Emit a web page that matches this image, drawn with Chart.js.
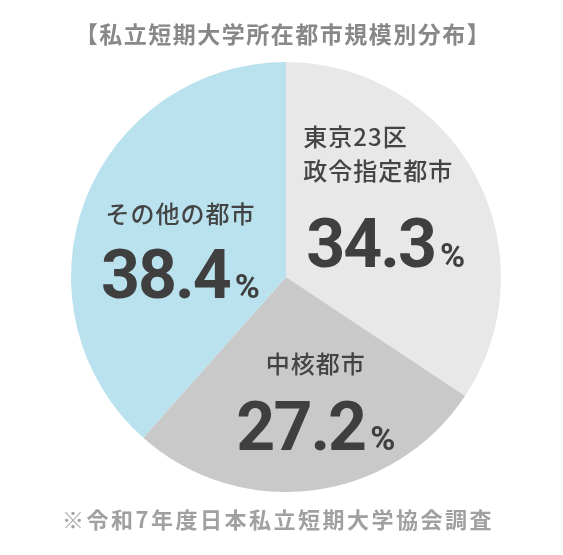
<!DOCTYPE html>
<html>
<head>
<meta charset="utf-8">
<script src="https://cdn.jsdelivr.net/npm/chart.js@4"></script>
<style>
  html, body { margin: 0; padding: 0; background: #fff; }
  #wrap { width: 563px; height: 555px; }
</style>
</head>
<body>
<div id="wrap"><canvas id="pieChart" width="563" height="555"></canvas></div>
<script>
// chart data
const chartTitle = '【私立短期大学所在都市規模別分布】';
const chartNote = '※令和7年度日本私立短期大学協会調査';
const categories = [['東京23区', '政令指定都市'], ['中核都市'], ['その他の都市']];
const shares = [34.3, 27.2, 38.4];
const sliceColors = ['#e8e8e8', '#c9c9c9', '#b9e2ee'];

const jpFont = '"Noto Sans CJK JP", "Noto Sans", sans-serif';
const numFont = 'Roboto, "Liberation Sans", sans-serif';

// where each label block sits relative to the slice's mid point
const labelOffsets = [
    { dx: 5, lastLine: -55, num: 41, align: 'left' },
    { dx: 16, lastLine: -20, num: 66, align: 'center' },
    { dx: -5, lastLine: -25, num: 59, align: 'center' }
];

const sliceLabels = {
    id: 'sliceLabels',
    afterDraw(chart) {
        const ctx = chart.ctx;
        const meta = chart.getDatasetMeta(0);
        ctx.save();
        meta.data.forEach((arc, i) => {
            const pos = arc.tooltipPosition();
            const off = labelOffsets[i];
            const cx = pos.x + off.dx;

            // big number + %
            const numText = shares[i].toFixed(1);
            ctx.font = 'bold 68px ' + numFont;
            ctx.letterSpacing = '-2px';
            const numW = ctx.measureText(numText).width;
            ctx.font = 'bold 34px ' + numFont;
            ctx.letterSpacing = '0px';
            const pctW = ctx.measureText('%').width;
            const gap = 5;
            const total = numW + gap + pctW;
            const left = cx - total / 2;
            const baseY = pos.y + off.num;

            ctx.fillStyle = '#3f3f3f';
            ctx.textBaseline = 'alphabetic';
            ctx.textAlign = 'left';
            ctx.font = 'bold 68px ' + numFont;
            ctx.letterSpacing = '-2px';
            ctx.fillText(numText, left, baseY);
            ctx.font = 'bold 34px ' + numFont;
            ctx.letterSpacing = '0px';
            ctx.fillText('%', left + numW + gap, baseY);

            // category name lines
            const lines = categories[i];
            ctx.font = '500 24px ' + jpFont;
            ctx.letterSpacing = '1px';
            ctx.fillStyle = '#444';
            ctx.textBaseline = 'middle';
            lines.forEach((line, k) => {
                const y = pos.y + off.lastLine - (lines.length - 1 - k) * 34;
                if (off.align === 'left') {
                    ctx.textAlign = 'left';
                    ctx.fillText(line, left - 3, y);
                } else {
                    ctx.textAlign = 'center';
                    ctx.fillText(line, cx, y);
                }
            });
        });

        // title and note
        ctx.textAlign = 'center';
        ctx.textBaseline = 'middle';
        ctx.font = 'bold 23px ' + jpFont;
        ctx.letterSpacing = '1.5px';
        ctx.fillStyle = '#888';
        ctx.fillText(chartTitle, 283, 34);
        ctx.font = 'bold 22px ' + jpFont;
        ctx.letterSpacing = '2.5px';
        ctx.fillStyle = '#a0a0a0';
        ctx.fillText(chartNote, 278, 520);
        ctx.restore();
    }
};

const ctx = document.getElementById('pieChart').getContext('2d');
const myChart = new Chart(ctx, {
    type: 'pie',
    data: {
        labels: categories.map(c => c.join('')),
        datasets: [{
            data: shares,
            backgroundColor: sliceColors,
            borderWidth: 0
        }]
    },
    options: {
        responsive: false,
        animation: false,
        layout: {
            padding: { left: 71, right: 62, top: 62, bottom: 63 }
        },
        plugins: {
            legend: { display: false },
            tooltip: { enabled: false }
        }
    },
    plugins: [sliceLabels]
});
</script>
</body>
</html>
